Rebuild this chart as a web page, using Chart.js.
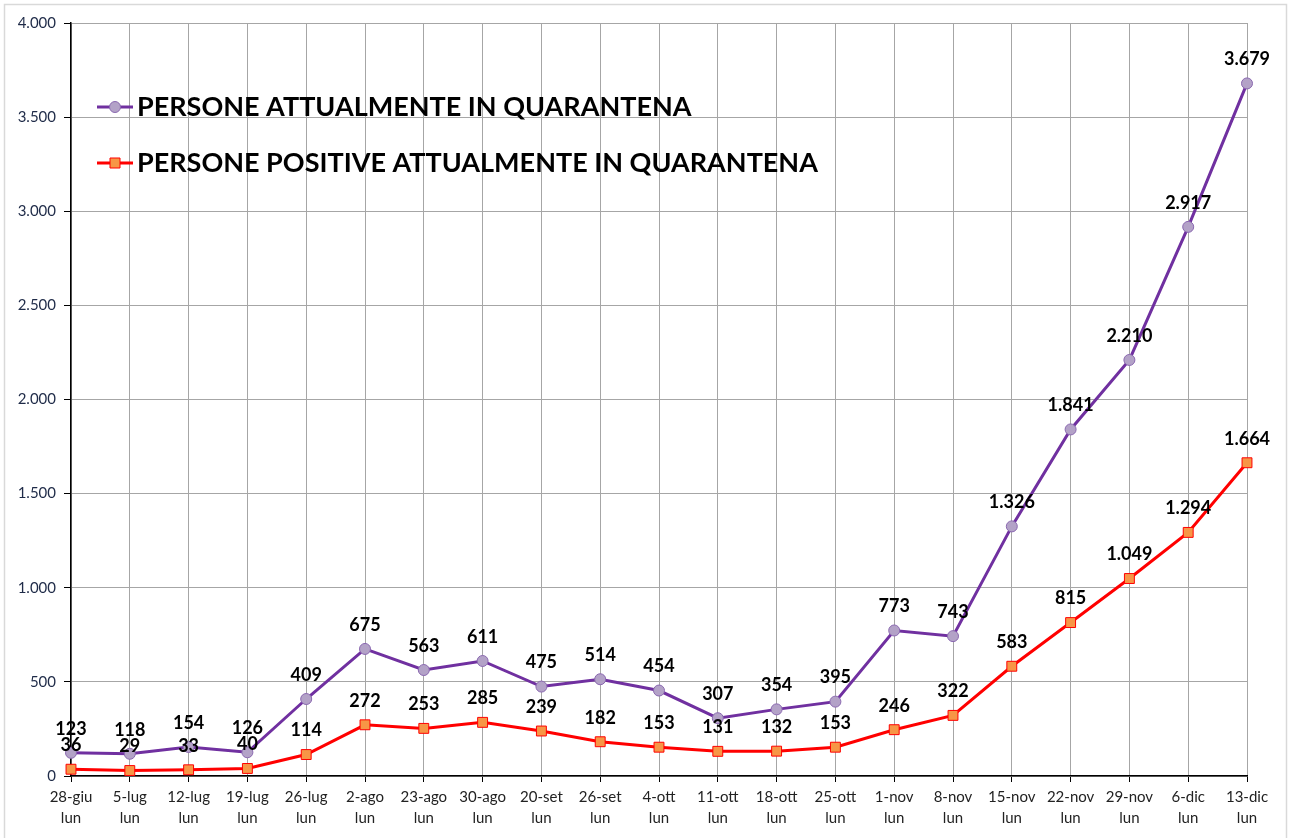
<!DOCTYPE html>
<html>
<head>
<meta charset="utf-8">
<style>
  html, body { margin: 0; padding: 0; background: #fff; }
  #wrap { width: 1290px; height: 838px; position: relative; }
</style>
<script src="https://cdn.jsdelivr.net/npm/chart.js@4/dist/chart.umd.min.js"></script>
</head>
<body>
<div id="wrap"><canvas id="quarantineChart"></canvas></div>
<script>
const weeks = ["28-giu", "5-lug", "12-lug", "19-lug", "26-lug", "2-ago", "23-ago", "30-ago", "20-set", "26-set",
  "4-ott", "11-ott", "18-ott", "25-ott", "1-nov", "8-nov", "15-nov", "22-nov", "29-nov", "6-dic", "13-dic"];
const weekday = "lun";
const inQuarantine = [123, 118, 154, 126, 409, 675, 563, 611, 475, 514, 454, 307, 354, 395, 773, 743, 1326, 1841, 2210, 2917, 3679];
const positiveInQuarantine = [36, 29, 33, 40, 114, 272, 253, 285, 239, 182, 153, 131, 132, 153, 246, 322, 583, 815, 1049, 1294, 1664];
const seriesNames = ["PERSONE ATTUALMENTE IN QUARANTENA", "PERSONE POSITIVE ATTUALMENTE IN QUARANTENA"];
const yTicks = [0, 500, 1000, 1500, 2000, 2500, 3000, 3500, 4000];

const FONT = "Lato, 'Open Sans', sans-serif";

// 1234 -> "1.234"
function fmt(v) {
  return String(v).replace(/\B(?=(\d{3})+(?!\d))/g, ".");
}

const frame = {
  id: "frame",
  beforeDraw(chart) {
    const ctx = chart.ctx;
    ctx.save();
    ctx.strokeStyle = "#d9d9d9";
    ctx.lineWidth = 1.5;
    ctx.strokeRect(4.5, 4.5, chart.width - 8, chart.height + 4);
    ctx.restore();
  },
};

const valueLabels = {
  id: "valueLabels",
  afterDatasetsDraw(chart) {
    const ctx = chart.ctx;
    ctx.save();
    ctx.font = "bold 18px " + FONT;
    ctx.fillStyle = "#000";
    ctx.textAlign = "center";
    ctx.textBaseline = "middle";
    chart.data.datasets.forEach((ds, i) => {
      chart.getDatasetMeta(i).data.forEach((pt, j) => {
        ctx.fillText(fmt(ds.data[j]), pt.x, pt.y - 24);
      });
    });
    ctx.restore();
  },
};

const innerLegend = {
  id: "innerLegend",
  afterDraw(chart) {
    const ctx = chart.ctx;
    const area = chart.chartArea;
    const x0 = area.left + 26;
    ctx.save();
    chart.data.datasets.forEach((ds, i) => {
      const y = area.top + 84 + i * 56;
      ctx.strokeStyle = ds.borderColor;
      ctx.lineWidth = 3;
      ctx.beginPath();
      ctx.moveTo(x0, y);
      ctx.lineTo(x0 + 36, y);
      ctx.stroke();
      ctx.fillStyle = ds.pointBackgroundColor;
      ctx.strokeStyle = ds.pointBorderColor;
      ctx.lineWidth = 1;
      ctx.beginPath();
      if (ds.pointStyle === "rect") {
        ctx.rect(x0 + 13, y - 5, 10, 10);
      } else {
        ctx.arc(x0 + 18, y, 5.5, 0, Math.PI * 2);
      }
      ctx.fill();
      ctx.stroke();
      ctx.font = "bold 27px " + FONT;
      ctx.fillStyle = "#000";
      ctx.textBaseline = "middle";
      ctx.fillText(ds.label, x0 + 40, y);
    });
    ctx.restore();
  },
};

new Chart(document.getElementById("quarantineChart"), {
  type: "line",
  data: {
    labels: weeks.map((w) => [w, weekday]),
    datasets: [
      {
        label: seriesNames[0],
        data: inQuarantine,
        borderColor: "#7030a0",
        borderWidth: 3,
        pointStyle: "circle",
        pointRadius: 5.5,
        pointBackgroundColor: "#b3a2c7",
        pointBorderColor: "#8a68b0",
        pointBorderWidth: 1,
        tension: 0,
      },
      {
        label: seriesNames[1],
        data: positiveInQuarantine,
        borderColor: "#ff0000",
        borderWidth: 3,
        pointStyle: "rect",
        pointRadius: 7,
        pointBackgroundColor: "#f79646",
        pointBorderColor: "#ff0000",
        pointBorderWidth: 1,
        tension: 0,
      },
    ],
  },
  options: {
    responsive: true,
    maintainAspectRatio: false,
    animation: false,
    layout: { padding: { top: 23, right: 43, left: 0, bottom: 0 } },
    plugins: {
      legend: { display: false },
      tooltip: { enabled: false },
    },
    scales: {
      x: {
        offset: false,
        afterFit(scale) { scale.height = 62; },
        grid: { color: "#a6a6a6", lineWidth: 1, tickColor: "#000", tickLength: 6 },
        border: { color: "#000", width: 1.5 },
        ticks: {
          autoSkip: false,
          maxRotation: 0,
          padding: 4,
          color: "#222",
          font: { family: FONT, size: 15, lineHeight: 1.45 },
        },
      },
      y: {
        min: 0,
        max: 4000,
        afterFit(scale) { scale.width = 71; },
        afterBuildTicks(scale) { scale.ticks = yTicks.map((v) => ({ value: v })); },
        grid: { color: "#a6a6a6", lineWidth: 1, tickColor: "#000", tickLength: 7 },
        border: { color: "#000", width: 1.5 },
        ticks: {
          padding: 8,
          color: "#1f2b48",
          font: { family: FONT, size: 15 },
          callback: (v) => fmt(v),
        },
      },
    },
  },
  plugins: [frame, valueLabels, innerLegend],
});
</script>
</body>
</html>
